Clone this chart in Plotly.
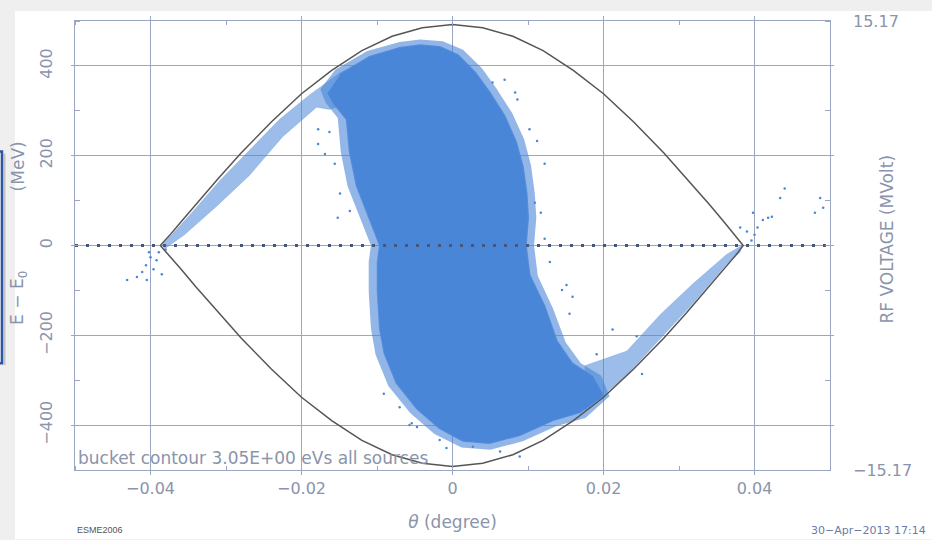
import plotly.graph_objects as go

# ---------------- data ----------------
# bucket contour (upper half; lower half is the mirror)
contour_x = [-0.0387, -0.0375, -0.036, -0.034, -0.031, -0.028, -0.024, -0.020, -0.016, -0.012,
             -0.008, -0.004, 0.0, 0.004, 0.008, 0.012, 0.016, 0.020, 0.024, 0.028, 0.031,
             0.034, 0.036, 0.0375, 0.0385]
contour_upper = [0, 22, 52, 92, 150, 206, 275, 338, 390, 434, 466, 485, 492, 485, 466, 434,
                 390, 338, 275, 206, 150, 92, 52, 22, 0]

# dense particle core (outline of the solid blue region)
core_x = [-0.0149, -0.0110, -0.0070, -0.0043, -0.0017, 0.0007, 0.0030, 0.0049, 0.0069, 0.0084,
          0.0093, 0.0098, 0.0100, 0.0097, 0.0102, 0.0122, 0.0138, 0.0158, 0.0185, 0.0199,
          0.0169, 0.0133, 0.0089, 0.0049, 0.0014, -0.0017, -0.0047, -0.0074, -0.0090, -0.0096,
          -0.0099, -0.0099, -0.0096, -0.0110, -0.0127, -0.0136, -0.0140, -0.0156, -0.0165]
core_y = [380, 420, 440, 446, 442, 424, 385, 341, 288, 231,
          176, 116, 62, 0, -66, -136, -213, -262, -292, -334,
          -371, -389, -422, -440, -435, -407, -363, -306, -240, -185,
          -103, -37, 0, 62, 134, 209, 281, 314, 341]

# thinner fringe of particles around the core
fringe_x = [-0.0155, -0.0113, -0.0070, -0.0043, -0.0013, 0.0014, 0.0039, 0.0058, 0.0079, 0.0095,
            0.0104, 0.0109, 0.0111, 0.0108, 0.0113, 0.0133, 0.0150, 0.0170, 0.0197, 0.0208,
            0.0176, 0.0138, 0.0093, 0.0050, 0.0012, -0.0024, -0.0056, -0.0085, -0.0102, -0.0108,
            -0.0111, -0.0111, -0.0108, -0.0122, -0.0139, -0.0148, -0.0152, -0.0168, -0.0175]
fringe_y = [392, 433, 453, 459, 455, 436, 395, 350, 295, 236,
            178, 116, 62, 0, -68, -140, -216, -262, -290, -336,
            -384, -402, -436, -455, -450, -420, -373, -313, -243, -185,
            -103, -37, 0, 60, 132, 209, 284, 318, 348]

# sparser tail following the upper-left part of the bucket
band1_x = [-0.0385, -0.0348, -0.0308, -0.0269, -0.0229, -0.0189, -0.0149, -0.0123,
           -0.0143, -0.0163, -0.0180, -0.0225, -0.0269, -0.0312, -0.0355, -0.0381]
band1_y = [0, 68, 145, 213, 281, 336, 385, 407,
           314, 303, 308, 242, 156, 88, 24, -7]

# sparser tail following the lower-right part of the bucket
band2_x = [0.0175, 0.0231, 0.0275, 0.0318, 0.0363, 0.0383,
           0.0381, 0.0363, 0.0318, 0.0275, 0.0231, 0.0195, 0.0175]
band2_y = [-268, -235, -154, -86, -20, 0,
           -15, -42, -130, -209, -288, -341, -367]

# isolated particles
sparse_x = [0.0053, 0.0069, 0.0083, 0.0086, 0.0102, 0.0112, 0.0122, 0.0109, 0.0117, 0.0122,
            -0.0178, -0.0163, -0.0169, -0.0156, -0.0178, -0.0149, -0.0152, -0.0136,
            0.0129, 0.0151, 0.0155, 0.0159, 0.0145, 0.0212, 0.0191, 0.0251, 0.0244,
            -0.0070, -0.0057, -0.0017, 0.0027, 0.0089, 0.0063, -0.0008, -0.0091, -0.0054, -0.0047,
            0.0398, 0.0411, 0.0418, 0.0423, 0.0404, 0.0400, 0.0381, 0.0390, 0.0396,
            0.0487, 0.0491, 0.0480, 0.0440, 0.0434,
            -0.0431, -0.0418, -0.0411, -0.0406, -0.0405, -0.0396, -0.0392, -0.0400, -0.0385,
            -0.0389, -0.0380, -0.0402]
sparse_y = [363, 369, 341, 325, 259, 233, 182, 95, 73, 15,
            259, 253, 204, 182, 226, 116, 62, 77,
            -37, -88, -152, -114, -99, -187, -242, -286, -202,
            -360, -400, -433, -448, -470, -459, -451, -330, -396, -404,
            73, 57, 62, 64, 40, 24, 40, 31, 11,
            106, 84, 73, 127, 106,
            -77, -70, -59, -44, -77, -53, -33, -26, -64,
            -15, -9, -15]

# RF voltage line (zero over the window)
rf_x = [-0.05, 0.05]
rf_y = [0, 0]

x_ticks = [-0.04, -0.02, 0, 0.02, 0.04]
y_ticks = [-400, -200, 0, 200, 400]
v_ticks = [-15.17, 15.17]
v_ticktext = ["\u221215.17", "15.17"]

# ---------------- styling ----------------
PT = "#4a86d8"
GRID = "#9aa6c2"
TXT = "#8a94aa"
FONT = "DejaVu Sans"

fig = go.Figure()

fig.add_trace(go.Scatter(x=band1_x, y=band1_y, fill="toself", mode="lines",
                         line=dict(width=0.5, color="rgba(74,134,216,0.5)"),
                         fillcolor="rgba(74,134,216,0.55)", hoverinfo="skip", showlegend=False))
fig.add_trace(go.Scatter(x=band2_x, y=band2_y, fill="toself", mode="lines",
                         line=dict(width=0.5, color="rgba(74,134,216,0.5)"),
                         fillcolor="rgba(74,134,216,0.55)", hoverinfo="skip", showlegend=False))
fig.add_trace(go.Scatter(x=fringe_x, y=fringe_y, fill="toself", mode="lines",
                         line=dict(width=0),
                         fillcolor="rgba(74,134,216,0.6)", hoverinfo="skip", showlegend=False))
fig.add_trace(go.Scatter(x=core_x, y=core_y, fill="toself", mode="lines",
                         line=dict(width=2, color="rgba(74,134,216,0.85)"),
                         fillcolor=PT, hoverinfo="skip", showlegend=False))
fig.add_trace(go.Scatter(x=sparse_x, y=sparse_y, mode="markers",
                         marker=dict(size=2.5, color=PT), showlegend=False))

cx = contour_x + contour_x[::-1]
cy = contour_upper + [-v for v in contour_upper[::-1]]
fig.add_trace(go.Scatter(x=cx, y=cy, mode="lines",
                         line=dict(color="#555555", width=1.5), showlegend=False))

fig.add_trace(go.Scatter(x=rf_x, y=rf_y, yaxis="y2", mode="lines",
                         line=dict(color="#45567f", width=3, dash="3px,8px"),
                         showlegend=False))

L, R, T, B = 75, 102, 16, 70
W, H = 932, 540
pw, ph = W - L - R, H - T - B


def px(v):
    return (v - L) / pw


def py(v):
    return (H - B - v) / ph


shapes = [
    dict(type="rect", xref="paper", yref="paper", x0=px(15), x1=px(932), y0=py(6), y1=py(540),
         fillcolor="white", line=dict(width=0), layer="below"),
    dict(type="rect", xref="paper", yref="paper", x0=px(-20), x1=px(2), y0=py(362), y1=py(148),
         fillcolor="rgba(0,0,0,0)", line=dict(width=2.5, color="#2e56a8"), layer="above"),
    dict(type="line", xref="paper", yref="paper", x0=px(4.5), x1=px(4.5), y0=py(364), y1=py(150),
         line=dict(width=2, color="rgba(120,120,120,0.35)"), layer="above"),
]

annotations = [
    dict(text="bucket contour 3.05E+00 eVs all sources", xref="paper", yref="paper",
         x=px(76), y=py(458), xanchor="left", yanchor="middle", showarrow=False,
         font=dict(family=FONT, size=17, color=TXT)),
    dict(text="(MeV)", xref="paper", yref="paper", x=px(18), y=py(163), textangle=-90,
         xanchor="center", yanchor="middle", showarrow=False,
         font=dict(family=FONT, size=17, color=TXT)),
    dict(text="E \u2212 E<sub>0</sub>", xref="paper", yref="paper", x=px(19), y=py(296),
         textangle=-90, xanchor="center", yanchor="middle", showarrow=False,
         font=dict(family=FONT, size=17, color=TXT)),
    dict(text="RF VOLTAGE (MVolt)", xref="paper", yref="paper", x=px(887), y=py(237),
         textangle=-90, xanchor="center", yanchor="middle", showarrow=False,
         font=dict(family=FONT, size=17, color=TXT)),
    dict(text="ESME2006", xref="paper", yref="paper", x=px(75), y=py(531),
         xanchor="left", yanchor="middle", showarrow=False,
         font=dict(family="Liberation Sans", size=9, color="#555555")),
    dict(text="30\u2212Apr\u22122013 17:14", xref="paper", yref="paper", x=px(928), y=py(531),
         xanchor="right", yanchor="middle", showarrow=False,
         font=dict(family=FONT, size=11, color="#6a7ca8")),
]

fig.update_layout(
    width=W, height=H,
    margin=dict(l=L, r=R, t=T, b=B),
    paper_bgcolor="#efefef",
    plot_bgcolor="white",
    shapes=shapes,
    annotations=annotations,
    font=dict(family=FONT, color=TXT, size=16),
    xaxis=dict(range=[-0.05, 0.05], tickvals=x_ticks, showgrid=True, gridcolor=GRID, gridwidth=1,
               zeroline=False, showline=True, linecolor=GRID, linewidth=1, mirror="allticks",
               ticks="outside", ticklen=4, tickcolor=GRID,
               minor=dict(ticks="inside", ticklen=4, dtick=0.01, tick0=0, tickcolor=GRID,
                          showgrid=False),
               tickfont=dict(family=FONT, size=16, color=TXT),
               title=dict(text="<i>\u03b8</i> (degree)", standoff=18,
                          font=dict(family=FONT, size=17, color=TXT))),
    yaxis=dict(range=[-500, 500], tickvals=y_ticks, showgrid=True, gridcolor=GRID, gridwidth=1,
               zeroline=False, showline=True, linecolor=GRID, linewidth=1, mirror="allticks",
               ticks="outside", ticklen=3, tickcolor=GRID, tickangle=-90, ticklabelstandoff=13,
               minor=dict(ticks="inside", ticklen=5, dtick=100, tick0=0, tickcolor=GRID,
                          showgrid=False),
               tickfont=dict(family=FONT, size=16, color=TXT)),
    yaxis2=dict(range=[-15.17, 15.17], overlaying="y", side="right", tickvals=v_ticks,
                ticktext=v_ticktext, showgrid=False, zeroline=False, showline=False, ticks="",
                ticklabelstandoff=22,
                tickfont=dict(family=FONT, size=16, color=TXT)),
)

fig.write_html("out.html")
